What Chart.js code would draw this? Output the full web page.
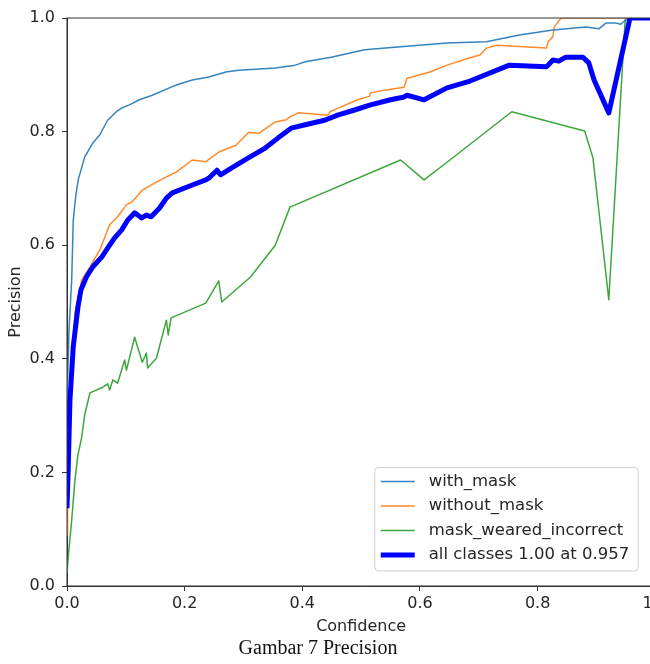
<!DOCTYPE html>
<html>
<head>
<meta charset="utf-8">
<script src="https://cdn.jsdelivr.net/npm/chart.js@4.4.0/dist/chart.umd.min.js"></script>
<style>
  html, body { margin: 0; padding: 0; background: #fff; overflow: hidden; width: 650px; height: 664px; }
  #wrap { position: absolute; left: 0; top: 0; width: 671px; height: 640px; }
  #caption { position: absolute; left: 0; width: 636px; top: 636px; text-align: center;
    font-family: "Liberation Serif", "Times New Roman", serif; font-size: 20px; color: #111; }
</style>
</head>
<body>
<div id="wrap"><canvas id="myChart" width="671" height="640"></canvas></div>
<div id="caption">Gambar 7 Precision</div>
<script>
// confidence / precision
const withMaskConf = [0, 0.0034, 0.008, 0.0106, 0.015, 0.019, 0.030, 0.044, 0.0556, 0.069, 0.084, 0.094, 0.106, 0.123, 0.145, 0.174, 0.186, 0.213, 0.241, 0.270, 0.292, 0.354, 0.388, 0.405, 0.449, 0.506, 0.562, 0.646, 0.713, 0.769, 0.826, 0.882, 0.904, 0.916, 0.933, 0.941, 0.949, 0.966, 1.0];
const withMaskPrec = [0.327, 0.45, 0.539, 0.644, 0.688, 0.715, 0.755, 0.780, 0.794, 0.820, 0.835, 0.842, 0.847, 0.856, 0.864, 0.877, 0.882, 0.891, 0.896, 0.905, 0.908, 0.912, 0.917, 0.923, 0.931, 0.944, 0.949, 0.956, 0.958, 0.970, 0.979, 0.984, 0.981, 0.991, 0.991, 0.989, 0.996, 1.0, 1.0];

const withoutMaskConf = [0, 0.001, 0.003, 0.006, 0.0135, 0.025, 0.039, 0.056, 0.0725, 0.086, 0.101, 0.110, 0.118, 0.128, 0.152, 0.186, 0.213, 0.236, 0.258, 0.287, 0.309, 0.326, 0.354, 0.373, 0.379, 0.393, 0.444, 0.447, 0.460, 0.494, 0.514, 0.516, 0.540, 0.573, 0.578, 0.617, 0.646, 0.685, 0.702, 0.713, 0.730, 0.815, 0.818, 0.826, 0.828, 0.840, 1.0];
const withoutMaskPrec = [0.09, 0.14, 0.25, 0.36, 0.481, 0.539, 0.562, 0.592, 0.636, 0.650, 0.671, 0.676, 0.685, 0.697, 0.711, 0.729, 0.750, 0.747, 0.764, 0.776, 0.799, 0.797, 0.817, 0.821, 0.826, 0.833, 0.829, 0.835, 0.841, 0.856, 0.862, 0.868, 0.873, 0.878, 0.894, 0.905, 0.917, 0.930, 0.935, 0.947, 0.952, 0.947, 0.958, 0.967, 0.984, 1.0, 1.0];

const incorrectConf = [0, 0.0017, 0.008, 0.0135, 0.0186, 0.025, 0.030, 0.039, 0.061, 0.069, 0.0725, 0.078, 0.086, 0.098, 0.101, 0.115, 0.128, 0.135, 0.137, 0.152, 0.169, 0.172, 0.177, 0.236, 0.258, 0.263, 0.312, 0.354, 0.379, 0.567, 0.607, 0.646, 0.756, 0.880, 0.894, 0.921, 0.949, 1.0];
const incorrectPrec = [0.023, 0.046, 0.116, 0.187, 0.231, 0.262, 0.301, 0.340, 0.350, 0.356, 0.345, 0.363, 0.357, 0.398, 0.380, 0.438, 0.394, 0.410, 0.384, 0.401, 0.468, 0.442, 0.472, 0.498, 0.537, 0.500, 0.544, 0.600, 0.667, 0.750, 0.715, 0.746, 0.835, 0.801, 0.754, 0.504, 1.0, 1.0];

const allConf = [0, 0.002, 0.005, 0.0106, 0.0186, 0.0236, 0.033, 0.044, 0.059, 0.0725, 0.081, 0.093, 0.103, 0.115, 0.127, 0.135, 0.143, 0.157, 0.169, 0.179, 0.213, 0.236, 0.241, 0.255, 0.261, 0.280, 0.309, 0.337, 0.359, 0.381, 0.405, 0.438, 0.460, 0.489, 0.516, 0.550, 0.573, 0.578, 0.607, 0.646, 0.685, 0.752, 0.815, 0.826, 0.836, 0.848, 0.877, 0.887, 0.896, 0.921, 0.957, 1.0];
const allPrec = [0.137, 0.204, 0.327, 0.421, 0.491, 0.521, 0.544, 0.562, 0.579, 0.600, 0.613, 0.627, 0.644, 0.657, 0.648, 0.653, 0.650, 0.665, 0.683, 0.692, 0.706, 0.715, 0.718, 0.732, 0.724, 0.736, 0.754, 0.771, 0.789, 0.806, 0.812, 0.820, 0.829, 0.838, 0.847, 0.856, 0.861, 0.864, 0.856, 0.877, 0.889, 0.917, 0.914, 0.926, 0.924, 0.931, 0.931, 0.921, 0.891, 0.833, 1.0, 1.0];

const seriesLabels = ['with_mask', 'without_mask', 'mask_weared_incorrect', 'all classes 1.00 at 0.957'];
const axisTicks = [0, 0.2, 0.4, 0.6, 0.8, 1.0];

const textColor = '#262626';
const font = { family: 'DejaVu Sans', size: 16 };
const legendFontSize = 16.5;

function pairs(xs, ys) {
  return xs.map((x, i) => ({ x: x, y: ys[i] }));
}

// matplotlib-style frame round the plot area
const frame = {
  id: 'frame',
  afterDatasetsDraw(chart) {
    const a = chart.chartArea;
    const ctx = chart.ctx;
    ctx.save();
    ctx.strokeStyle = '#333';
    ctx.lineWidth = 1;
    ctx.strokeRect(a.left, a.top, a.right - a.left, a.bottom - a.top);
    ctx.restore();
  }
};

// legend drawn inside the axes, lower right
const boxLegend = {
  id: 'boxLegend',
  afterDraw(chart) {
    const a = chart.chartArea;
    const ctx = chart.ctx;
    ctx.save();
    ctx.font = legendFontSize + 'px ' + font.family;
    const ds = chart.data.datasets;
    let maxW = 0;
    ds.forEach(d => { maxW = Math.max(maxW, ctx.measureText(d.label).width); });
    const rowH = 24.5;
    const w = 54 + maxW + 9;
    const h = 14 + rowH * (ds.length - 1) + 16;
    const right = a.right - 17;
    const bottom = a.bottom - 15;
    const left = right - w;
    const top = bottom - h;

    ctx.beginPath();
    ctx.roundRect(left, top, w, h, 4);
    ctx.fillStyle = 'rgba(255,255,255,0.85)';
    ctx.fill();
    ctx.strokeStyle = '#d0d0d0';
    ctx.lineWidth = 1;
    ctx.stroke();

    ds.forEach((d, i) => {
      const y = top + 14 + i * rowH;
      ctx.beginPath();
      ctx.moveTo(left + 6, y);
      ctx.lineTo(left + 40, y);
      ctx.strokeStyle = d.borderColor;
      ctx.lineWidth = d.borderWidth;
      ctx.stroke();
      ctx.fillStyle = textColor;
      ctx.textBaseline = 'middle';
      ctx.fillText(d.label, left + 54, y);
    });
    ctx.restore();
  }
};

const ctx = document.getElementById('myChart').getContext('2d');
const myChart = new Chart(ctx, {
  type: 'line',
  data: {
    datasets: [
      { label: seriesLabels[0], data: pairs(withMaskConf, withMaskPrec), borderColor: '#3584c0', borderWidth: 1.5, order: 1 },
      { label: seriesLabels[1], data: pairs(withoutMaskConf, withoutMaskPrec), borderColor: '#ff8a2a', borderWidth: 1.5, order: 1 },
      { label: seriesLabels[2], data: pairs(incorrectConf, incorrectPrec), borderColor: '#3da63d', borderWidth: 1.5, order: 1 },
      { label: seriesLabels[3], data: pairs(allConf, allPrec), borderColor: '#0000ff', borderWidth: 5, order: 0 }
    ]
  },
  options: {
    responsive: false,
    animation: false,
    devicePixelRatio: 1,
    layout: { padding: { top: 18, right: 12, left: 0, bottom: 0 } },
    elements: {
      point: { radius: 0 },
      line: { tension: 0, fill: false, borderJoinStyle: 'round' }
    },
    plugins: {
      legend: { display: false },
      tooltip: { enabled: false }
    },
    scales: {
      x: {
        type: 'linear',
        min: 0,
        max: 1,
        afterBuildTicks(scale) { scale.ticks = axisTicks.map(v => ({ value: v })); },
        afterFit(scale) { scale.height = 54; },
        ticks: { font: font, color: textColor, padding: 3, callback: v => v.toFixed(1) },
        grid: { drawOnChartArea: false, drawTicks: true, tickLength: 5, color: '#333' },
        border: { display: true, color: '#333' },
        title: { display: true, text: 'Confidence', font: font, color: textColor, padding: { top: 4, bottom: 4 } }
      },
      y: {
        type: 'linear',
        min: 0,
        max: 1,
        afterBuildTicks(scale) { scale.ticks = axisTicks.map(v => ({ value: v })); },
        afterFit(scale) { scale.width = 67; },
        ticks: { font: font, color: textColor, padding: 7, callback: v => v.toFixed(1) },
        grid: { drawOnChartArea: false, drawTicks: true, tickLength: 5, color: '#333' },
        border: { display: true, color: '#333' },
        title: { display: true, text: 'Precision', font: font, color: textColor, padding: { top: 6, bottom: 4 } }
      }
    }
  },
  plugins: [frame, boxLegend]
});
</script>
</body>
</html>
